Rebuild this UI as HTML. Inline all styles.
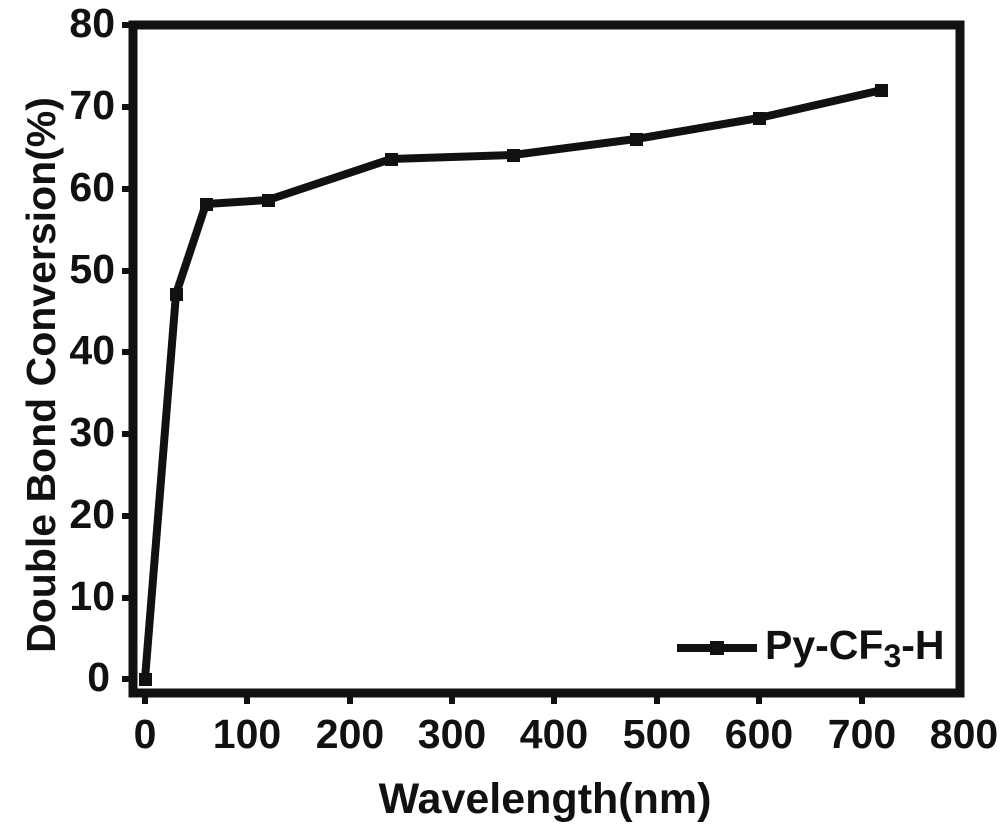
<!DOCTYPE html>
<html><head><style>
html,body{margin:0;padding:0;background:#fff;}
svg{display:block;}
text{font-family:"Liberation Sans",sans-serif;font-weight:bold;fill:#111;}
</style></head><body>
<svg width="1008" height="840" viewBox="0 0 1008 840">
<rect width="1008" height="840" fill="#fff"/>
<g stroke="#111" stroke-width="9" fill="none">
<path d="M133 25 H960 V693 H133 Z"/>
</g>
<g stroke="#111" stroke-width="6">
<line x1="122" y1="25" x2="133" y2="25"/>
<line x1="122" y1="107" x2="133" y2="107"/>
<line x1="122" y1="189" x2="133" y2="189"/>
<line x1="122" y1="271" x2="133" y2="271"/>
<line x1="122" y1="352" x2="133" y2="352"/>
<line x1="122" y1="434" x2="133" y2="434"/>
<line x1="122" y1="516" x2="133" y2="516"/>
<line x1="122" y1="598" x2="133" y2="598"/>
<line x1="122" y1="679" x2="133" y2="679"/>
<line x1="145" y1="693" x2="145" y2="704"/>
<line x1="247" y1="693" x2="247" y2="704"/>
<line x1="350" y1="693" x2="350" y2="704"/>
<line x1="452" y1="693" x2="452" y2="704"/>
<line x1="554" y1="693" x2="554" y2="704"/>
<line x1="657" y1="693" x2="657" y2="704"/>
<line x1="759" y1="693" x2="759" y2="704"/>
<line x1="862" y1="693" x2="862" y2="704"/>
</g>
<g font-size="41" text-anchor="end">
<text x="115" y="37">80</text><text x="115" y="119">70</text><text x="115" y="201">60</text>
<text x="115" y="283">50</text><text x="115" y="364">40</text><text x="115" y="446">30</text>
<text x="115" y="528">20</text><text x="115" y="610">10</text><text x="110" y="691">0</text>
</g>
<g font-size="41" text-anchor="middle">
<text x="145" y="748">0</text><text x="247" y="748">100</text><text x="350" y="748">200</text>
<text x="452" y="748">300</text><text x="554" y="748">400</text><text x="657" y="748">500</text>
<text x="759" y="748">600</text><text x="862" y="748">700</text><text x="964" y="748">800</text>
</g>
<text x="545" y="813" font-size="43" text-anchor="middle">Wavelength(nm)</text>
<text transform="translate(55,375) rotate(-90)" font-size="41" text-anchor="middle">Double Bond Conversion(%)</text>
<polyline fill="none" stroke="#111" stroke-width="8" stroke-linejoin="round" points="145,679 176,294 206,204 268,200 391,159 513,155 636,139 759,118 882,90"/>
<g fill="#111">
<rect x="139" y="673" width="13" height="13"/><rect x="170" y="288" width="13" height="13"/>
<rect x="200" y="198" width="13" height="13"/><rect x="262" y="194" width="13" height="13"/>
<rect x="385" y="153" width="13" height="13"/><rect x="507" y="149" width="13" height="13"/>
<rect x="630" y="133" width="13" height="13"/><rect x="753" y="112" width="13" height="13"/>
<rect x="875" y="84" width="13" height="13"/>
</g>
<line x1="677" y1="648" x2="757" y2="648" stroke="#111" stroke-width="8"/>
<rect x="710" y="641" width="14" height="14" fill="#111"/>
<text x="765" y="659" font-size="41">Py-CF<tspan font-size="32" dy="8">3</tspan><tspan dy="-8">-H</tspan></text>
</svg>
</body></html>
